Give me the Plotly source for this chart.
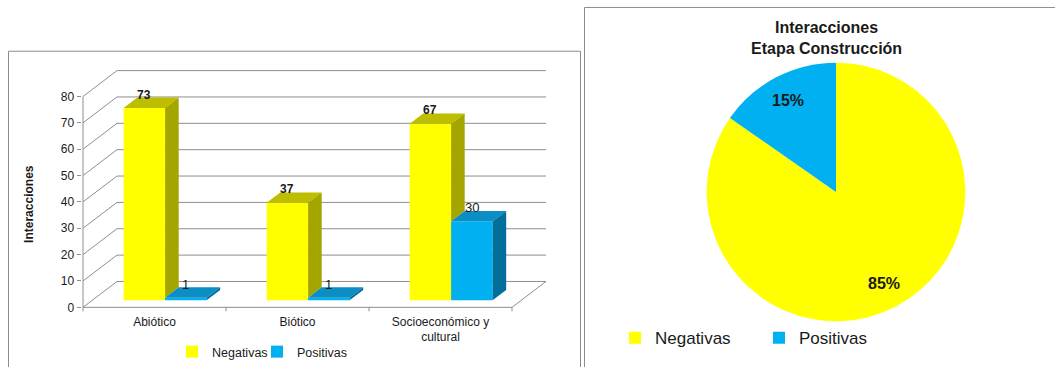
import math
import plotly.graph_objects as go

# ---------------- data ----------------
categories = ["Abiótico", "Biótico", "Socioeconómico y<br>cultural"]
negativas = [73, 37, 67]
positivas = [1, 1, 30]
series_names = ["Negativas", "Positivas"]
y_ticks = [0, 10, 20, 30, 40, 50, 60, 70, 80]
y_title = "Interacciones"
pie_title = "Interacciones<br>Etapa Construcción"

# ---------------- style / geometry ----------------
W, H = 1055, 367
FONT = "Liberation Sans, Arial, sans-serif"
TXT = "#1a1a1a"
GRID = "#8e8e8e"
YEL, YEL_SIDE, YEL_TOP = "#FFFF00", "#A5A500", "#BEBE00"
BLU, BLU_SIDE, BLU_TOP = "#00B0F0", "#006F9C", "#0B8EC4"

X0_PX, CAT_PX = 83.0, 143.0      # pixel of x=0, pixels per category
Y0_PX, UNIT_PX = 309.0, 2.65     # pixel of y=0, pixels per value unit
DX = 34.0 / CAT_PX               # depth offset (category units)
DY = 26.0 / UNIT_PX              # depth offset (value units)
X_RANGE = [-0.01, 3 + DX + 0.01]
Y_RANGE = [-2.0, 90.0]
F0 = 0.27        # depth position of bar front faces (fraction of depth)
T = 0.40         # bar depth (fraction of depth)
BW = 0.29        # bar width (category units)
GROUP_OFF = 0.01

ncat = len(categories)
ymax_wall = y_ticks[-1]

x_dom = [(X0_PX + X_RANGE[0] * CAT_PX) / W, (X0_PX + X_RANGE[1] * CAT_PX) / W]
y_dom = [1 - (Y0_PX - Y_RANGE[0] * UNIT_PX) / H, 1 - (Y0_PX - Y_RANGE[1] * UNIT_PX) / H]

fig = go.Figure()

# ---------- 3D walls (shapes below the bars) ----------
shapes = []
def seg(x0, y0, x1, y1, color=GRID):
    shapes.append(dict(type="line", xref="x", yref="y", x0=x0, y0=y0, x1=x1, y1=y1,
                       line=dict(color=color, width=1), layer="below"))

for v in y_ticks:
    seg(DX, v + DY, ncat + DX, v + DY)     # back wall gridline
    seg(0, v, DX, v + DY)                  # side wall diagonal
seg(0, 0, 0, ymax_wall)                    # front vertical axis
seg(0, 0, ncat, 0)                         # floor front edge
seg(ncat, 0, ncat + DX, DY)                # floor right edge
for k in range(ncat + 1):                  # category ticks
    seg(k, 0, k, -4.0 / UNIT_PX)

# ---------- bars ----------
base = F0 * DY
sx = F0 * DX
yel_x = [k + 0.5 + sx + GROUP_OFF - BW / 2 for k in range(ncat)]
blu_x = [k + 0.5 + sx + GROUP_OFF + BW / 2 for k in range(ncat)]

fig.add_trace(go.Bar(x=yel_x, y=negativas, base=[base] * ncat, width=BW,
                     marker=dict(color=YEL, line=dict(width=0)),
                     name=series_names[0], legend="legend", hoverinfo="skip"))
fig.add_trace(go.Bar(x=blu_x, y=positivas, base=[base] * ncat, width=BW,
                     marker=dict(color=BLU, line=dict(width=0)),
                     name=series_names[1], legend="legend3", hoverinfo="skip"))

def poly(xs, ys, color):
    fig.add_trace(go.Scatter(x=xs + [xs[0]], y=ys + [ys[0]], mode="lines", fill="toself",
                             fillcolor=color, line=dict(width=0, color=color),
                             showlegend=False, hoverinfo="skip"))

tdx, tdy = T * DX, T * DY
for k in range(ncat):
    for xc, v, lo_v, side_c, top_c in (
        (yel_x[k], negativas[k], min(max(positivas[k], 0), negativas[k]), YEL_SIDE, YEL_TOP),
        (blu_x[k], positivas[k], 0, BLU_SIDE, BLU_TOP),
    ):
        xl, xr = xc - BW / 2, xc + BW / 2
        top = base + v
        lo = base + lo_v
        # top face
        poly([xl, xr, xr + tdx, xl + tdx], [top, top, top + tdy, top + tdy], top_c)
        # side face (visible part)
        if top > lo:
            poly([xr, xr + tdx, xr + tdx, xr], [lo, lo + tdy, top + tdy, top], side_c)

# ---------- data labels ----------
annotations = []
for k in range(ncat):
    annotations.append(dict(x=yel_x[k], y=base + negativas[k] + tdy, xref="x", yref="y",
                            text="<b>%d</b>" % negativas[k], showarrow=False, yshift=3,
                            font=dict(family=FONT, size=12, color=TXT)))
    annotations.append(dict(x=blu_x[k], y=base + positivas[k] + tdy, xref="x", yref="y",
                            text="%d" % positivas[k], showarrow=False, yshift=3,
                            font=dict(family=FONT, size=13, color=TXT)))

# y axis title
annotations.append(dict(x=29 / W, y=1 - 205 / H, xref="paper", yref="paper", text="<b>%s</b>" % y_title,
                        textangle=-90, showarrow=False, xanchor="center", yanchor="middle",
                        font=dict(family=FONT, size=12, color=TXT)))
# pie title
annotations.append(dict(x=826 / W, y=1 - 38 / H, xref="paper", yref="paper", text="<b>%s</b>" % pie_title,
                        showarrow=False, xanchor="center", yanchor="middle",
                        font=dict(family=FONT, size=16, color=TXT)))

# ---------- pie ----------
pie_vals = [sum(negativas), sum(positivas)]
cx, cy, r = 836.0, 193.0, 130.0
LABEL_R = 0.80
fig.add_trace(go.Pie(labels=series_names, values=pie_vals, sort=False, direction="clockwise",
                     rotation=0, marker=dict(colors=[YEL, BLU], line=dict(width=0)),
                     textinfo="none",
                     domain=dict(x=[(cx - r) / W, (cx + r) / W], y=[1 - (cy + r) / H, 1 - (cy - r) / H]),
                     legend="legend2", hoverinfo="skip"))

# percentage labels placed at the slice mid-angles (clockwise from 12 o'clock)
total = float(sum(pie_vals))
cum = 0.0
for v in pie_vals:
    frac = v / total
    a = 2 * math.pi * (cum + frac / 2)
    cum += frac
    px = cx + LABEL_R * r * math.sin(a)
    py = cy - LABEL_R * r * math.cos(a)
    annotations.append(dict(x=px / W, y=1 - py / H, xref="paper", yref="paper",
                            text="<b>%d%%</b>" % round(frac * 100), showarrow=False,
                            xanchor="center", yanchor="middle",
                            font=dict(family=FONT, size=16, color=TXT)))

# ---------- panel borders ----------
shapes.append(dict(type="rect", xref="paper", yref="paper", x0=8.5 / W, x1=580.5 / W,
                   y0=-0.2, y1=1 - 51.5 / H, line=dict(color="#8c8c8c", width=1), layer="below"))
shapes.append(dict(type="rect", xref="paper", yref="paper", x0=584.5 / W, x1=1.2,
                   y0=-0.2, y1=1 - 7.5 / H, line=dict(color="#8c8c8c", width=1), layer="below"))

leg_common = dict(orientation="h", xanchor="left", yanchor="middle", bgcolor="rgba(0,0,0,0)",
                  borderwidth=0)
fig.update_layout(
    width=W, height=H, autosize=False,
    margin=dict(l=0, r=0, t=0, b=0),
    paper_bgcolor="white", plot_bgcolor="rgba(0,0,0,0)",
    barmode="overlay", hovermode=False,
    font=dict(family=FONT, color=TXT),
    xaxis=dict(domain=x_dom, range=X_RANGE, tickvals=[k + 0.5 for k in range(ncat)],
               ticktext=categories, ticks="", showline=False, showgrid=False, zeroline=False,
               tickfont=dict(family=FONT, size=12, color=TXT), fixedrange=True),
    yaxis=dict(domain=y_dom, range=Y_RANGE, tickvals=y_ticks, ticks="outside", ticklen=4,
               tickcolor=GRID, showline=False, showgrid=False, zeroline=False,
               tickfont=dict(family=FONT, size=12, color=TXT), fixedrange=True),
    legend=dict(x=172 / W, y=1 - 354 / H, font=dict(family=FONT, size=12.5, color=TXT), **leg_common),
    legend3=dict(x=257 / W, y=1 - 354 / H, font=dict(family=FONT, size=12.5, color=TXT), **leg_common),
    legend2=dict(x=615 / W, y=1 - 340 / H, font=dict(family=FONT, size=17, color=TXT),
                 entrywidth=99, **leg_common),
    shapes=shapes,
    annotations=annotations,
)

fig.write_html("out.html")
